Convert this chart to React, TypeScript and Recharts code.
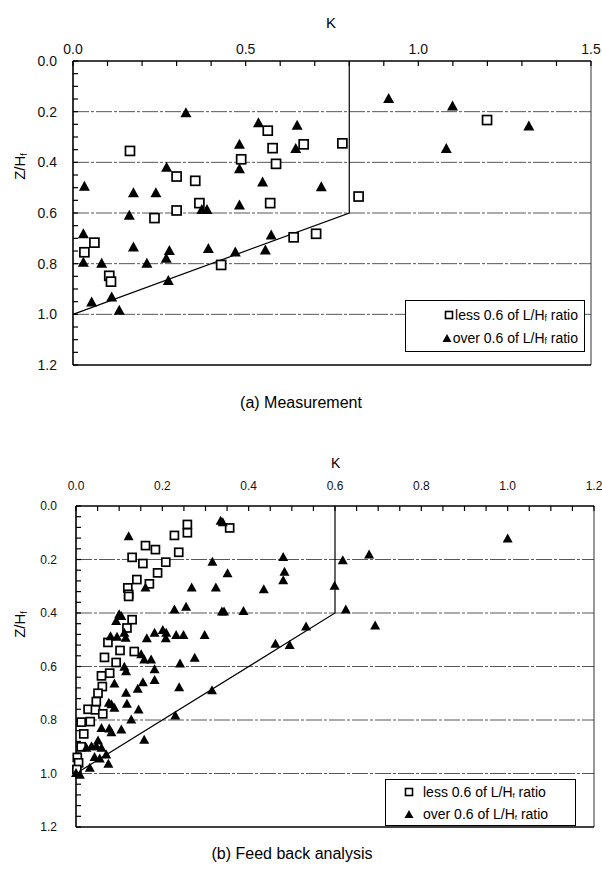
import React from 'react';
import { ScatterChart, Scatter, XAxis, YAxis, ReferenceLine } from 'recharts';

const FONT = '"Liberation Sans", Arial, Helvetica, sans-serif';

// ---- (a) Measurement ----
const A_LESS_K = [0.165, 0.564, 0.578, 0.668, 0.78, 0.487, 0.588, 0.3, 0.354, 0.366, 0.571, 0.3, 0.236, 0.827, 0.062, 0.033, 0.639, 0.704, 0.429, 0.105, 0.11, 1.199];
const A_LESS_Z = [0.355, 0.275, 0.344, 0.329, 0.325, 0.388, 0.406, 0.456, 0.473, 0.561, 0.561, 0.59, 0.62, 0.535, 0.717, 0.755, 0.696, 0.682, 0.805, 0.848, 0.871, 0.233];
const A_OVER_K = [0.327, 0.537, 0.649, 0.482, 0.645, 0.482, 0.271, 0.033, 0.549, 0.719, 0.175, 0.24, 0.373, 0.388, 0.482, 0.163, 0.03, 0.175, 0.279, 0.27, 0.392, 0.47, 0.574, 0.557, 0.03, 0.083, 0.214, 0.276, 0.054, 0.112, 0.134, 0.914, 1.099, 1.32, 1.081];
const A_OVER_Z = [0.206, 0.246, 0.256, 0.331, 0.347, 0.427, 0.421, 0.496, 0.48, 0.498, 0.522, 0.522, 0.588, 0.588, 0.57, 0.611, 0.684, 0.736, 0.75, 0.781, 0.742, 0.756, 0.689, 0.748, 0.796, 0.8, 0.8, 0.868, 0.953, 0.934, 0.986, 0.15, 0.18, 0.259, 0.347];
const A_LIMIT_K = [0, 0.8, 0.8];
const A_LIMIT_Z = [1.0, 0.6, 0.0];
const A_X_TICKS = [0, 0.1, 0.2, 0.3, 0.4, 0.5, 0.6, 0.7, 0.8, 0.9, 1.0, 1.1, 1.2, 1.3, 1.4, 1.5];
const A_X_LABELS = [0, 0.5, 1.0, 1.5];
const A_Y_TICKS = [0, 0.05, 0.1, 0.15, 0.2, 0.25, 0.3, 0.35, 0.4, 0.45, 0.5, 0.55, 0.6, 0.65, 0.7, 0.75, 0.8, 0.85, 0.9, 0.95, 1.0, 1.05, 1.1, 1.15, 1.2];
const A_Y_LABELS = [0, 0.2, 0.4, 0.6, 0.8, 1.0, 1.2];

// ---- (b) Feed back analysis ----
const B_LESS_K = [0.258, 0.258, 0.228, 0.356, 0.161, 0.184, 0.238, 0.13, 0.155, 0.208, 0.189, 0.141, 0.17, 0.12, 0.122, 0.122, 0.13, 0.118, 0.074, 0.102, 0.135, 0.066, 0.093, 0.078, 0.059, 0.061, 0.051, 0.047, 0.028, 0.045, 0.062, 0.012, 0.033, 0.018, 0.012, 0.003, 0.006, 0.002];
const B_LESS_Z = [0.069, 0.1, 0.11, 0.082, 0.148, 0.163, 0.173, 0.192, 0.215, 0.21, 0.25, 0.275, 0.291, 0.306, 0.33, 0.338, 0.425, 0.456, 0.51, 0.54, 0.544, 0.566, 0.585, 0.625, 0.635, 0.675, 0.7, 0.731, 0.76, 0.762, 0.777, 0.808, 0.806, 0.852, 0.9, 0.94, 0.96, 0.985];
const B_OVER_K = [0.122, 0.335, 0.34, 1.0, 0.679, 0.48, 0.618, 0.316, 0.351, 0.483, 0.48, 0.161, 0.268, 0.324, 0.435, 0.599, 0.228, 0.255, 0.338, 0.343, 0.388, 0.625, 0.693, 0.105, 0.093, 0.1, 0.08, 0.095, 0.115, 0.112, 0.164, 0.182, 0.201, 0.209, 0.208, 0.232, 0.249, 0.298, 0.533, 0.462, 0.495, 0.151, 0.158, 0.174, 0.241, 0.275, 0.112, 0.182, 0.116, 0.182, 0.239, 0.315, 0.23, 0.089, 0.155, 0.143, 0.116, 0.076, 0.082, 0.089, 0.118, 0.145, 0.128, 0.059, 0.077, 0.082, 0.105, 0.158, 0.051, 0.024, 0.036, 0.047, 0.059, 0.043, 0.055, 0.07, 0.075, 0.032, 0.0, 0.009];
const B_OVER_Z = [0.115, 0.057, 0.062, 0.123, 0.183, 0.192, 0.204, 0.21, 0.253, 0.247, 0.279, 0.306, 0.306, 0.306, 0.313, 0.3, 0.388, 0.378, 0.396, 0.396, 0.394, 0.388, 0.448, 0.413, 0.431, 0.406, 0.488, 0.49, 0.494, 0.475, 0.496, 0.475, 0.465, 0.475, 0.496, 0.484, 0.484, 0.484, 0.452, 0.516, 0.521, 0.556, 0.575, 0.575, 0.59, 0.569, 0.602, 0.612, 0.619, 0.652, 0.679, 0.69, 0.785, 0.665, 0.66, 0.685, 0.7, 0.737, 0.743, 0.756, 0.741, 0.762, 0.8, 0.831, 0.833, 0.847, 0.837, 0.875, 0.878, 0.905, 0.9, 0.9, 0.905, 0.94, 0.945, 0.93, 0.965, 0.98, 1.0, 1.006];
const B_LIMIT_K = [0, 0.6, 0.6];
const B_LIMIT_Z = [1.0, 0.4, 0.0];
const B_X_TICKS = [0, 0.05, 0.1, 0.15, 0.2, 0.25, 0.3, 0.35, 0.4, 0.45, 0.5, 0.55, 0.6, 0.65, 0.7, 0.75, 0.8, 0.85, 0.9, 0.95, 1.0, 1.05, 1.1, 1.15, 1.2];
const B_X_LABELS = [0, 0.2, 0.4, 0.6, 0.8, 1.0, 1.2];
const B_Y_TICKS = [0, 0.04, 0.08, 0.12, 0.16, 0.2, 0.24, 0.28, 0.32, 0.36, 0.4, 0.44, 0.48, 0.52, 0.56, 0.6, 0.64, 0.68, 0.72, 0.76, 0.8, 0.84, 0.88, 0.92, 0.96, 1.0, 1.04, 1.08, 1.12, 1.16, 1.2];
const B_Y_LABELS = [0, 0.2, 0.4, 0.6, 0.8, 1.0, 1.2];

const GRID_Z = [0.2, 0.4, 0.6, 0.8, 1.0];

const zip = (k: number[], z: number[]) => k.map((v, i) => ({ k: v, z: z[i] }));
const labelFmt = (labels: number[]) => (v: number) =>
  labels.some((l) => Math.abs(l - v) < 1e-9) ? v.toFixed(1) : '';

const squareShape = (s: number, sw: number) => (p: any) => (
  <rect x={p.cx - s / 2} y={p.cy - s / 2} width={s} height={s} fill="#fff" stroke="#000" strokeWidth={sw} />
);
const triangleShape = (w: number, h: number) => (p: any) => (
  <polygon
    points={`${p.cx},${p.cy - h * 0.6} ${p.cx - w / 2},${p.cy + h * 0.4} ${p.cx + w / 2},${p.cy + h * 0.4}`}
    fill="#000"
  />
);
const noShape = () => <g />;

function Panel(props: {
  height: number;
  margin: { top: number; right: number; bottom: number; left: number };
  xHeight: number;
  yWidth: number;
  xMax: number;
  xTicks: number[];
  xLabels: number[];
  yTicks: number[];
  yLabels: number[];
  xTickMargin: number;
  yTickMargin: number;
  fontSize: number;
  less: { k: number; z: number }[];
  over: { k: number; z: number }[];
  limit: { k: number; z: number }[];
  sq: number;
  tri: [number, number];
}) {
  const p = props;
  return (
    <ScatterChart width={602} height={p.height} margin={p.margin}>
      <XAxis
        type="number"
        dataKey="k"
        orientation="top"
        domain={[0, p.xMax]}
        ticks={p.xTicks}
        interval={0}
        height={p.xHeight}
        tickSize={-5}
        tickMargin={p.xTickMargin}
        tickFormatter={labelFmt(p.xLabels)}
        axisLine={{ stroke: '#000', strokeWidth: 1.6 }}
        tickLine={{ stroke: '#000', strokeWidth: 1.2 }}
        tick={{ fill: '#111', fontSize: p.fontSize, fontFamily: FONT }}
      />
      <YAxis
        type="number"
        dataKey="z"
        domain={[0, 1.2]}
        reversed
        ticks={p.yTicks}
        interval={0}
        width={p.yWidth}
        tickSize={-5}
        tickMargin={p.yTickMargin}
        tickFormatter={labelFmt(p.yLabels)}
        axisLine={{ stroke: '#000', strokeWidth: 1.6 }}
        tickLine={{ stroke: '#000', strokeWidth: 1.2 }}
        tick={{ fill: '#111', fontSize: p.fontSize, fontFamily: FONT }}
      />
      {GRID_Z.map((z) => (
        <ReferenceLine key={z} y={z} stroke="#444" strokeWidth={0.9} strokeDasharray="16 2 3 2" />
      ))}
      <ReferenceLine x={p.xMax} stroke="#333" strokeWidth={1} ifOverflow="visible" />
      <ReferenceLine y={1.2} stroke="#000" strokeWidth={1.6} ifOverflow="visible" />
      <Scatter data={p.limit} line={{ stroke: '#000', strokeWidth: 1.2 }} shape={noShape} isAnimationActive={false} />
      <Scatter data={p.less} shape={squareShape(p.sq, 1.7)} isAnimationActive={false} />
      <Scatter data={p.over} shape={triangleShape(p.tri[0], p.tri[1])} isAnimationActive={false} />
    </ScatterChart>
  );
}

const Hf = ({ size }: { size: number }) => (
  <span>
    H<span style={{ fontSize: size * 0.6, position: 'relative', top: size * 0.12 }}>f</span>
  </span>
);

function LegendRow({ marker, text, fontSize, gap }: { marker: 'sq' | 'tri'; text: string; fontSize: number; gap: number }) {
  return (
    <div style={{ display: 'flex', alignItems: 'center', height: fontSize + 9 }}>
      <svg width={10} height={10} style={{ marginRight: gap }}>
        {marker === 'sq' ? (
          <rect x={1.5} y={1.5} width={7} height={7} fill="#fff" stroke="#000" strokeWidth={1.6} />
        ) : (
          <polygon points="5,1 0.5,9 9.5,9" fill="#000" />
        )}
      </svg>
      <span>
        {text} of L/<Hf size={fontSize} /> ratio
      </span>
    </div>
  );
}

export default function App() {
  const abs = (l: number, t: number): React.CSSProperties => ({ position: 'absolute', left: l, top: t });
  return (
    <div style={{ position: 'absolute', left: 0, top: 0, width: 602, height: 875, background: '#fff', fontFamily: FONT, color: '#000' }}>
      {/* (a) */}
      <div style={abs(0, 0)}>
        <Panel
          height={380}
          margin={{ top: 30, right: 11, bottom: 15, left: 10 }}
          xHeight={31}
          yWidth={63}
          xMax={1.5}
          xTicks={A_X_TICKS}
          xLabels={A_X_LABELS}
          yTicks={A_Y_TICKS}
          yLabels={A_Y_LABELS}
          xTickMargin={12}
          yTickMargin={21}
          fontSize={14}
          less={zip(A_LESS_K, A_LESS_Z)}
          over={zip(A_OVER_K, A_OVER_Z)}
          limit={zip(A_LIMIT_K, A_LIMIT_Z)}
          sq={9}
          tri={[11, 10]}
        />
      </div>
      <div style={{ ...abs(326, 14), fontSize: 15 }}>K</div>
      <div style={{ ...abs(0, 158), width: 38, fontSize: 15, transform: 'rotate(-90deg)', textAlign: 'center', whiteSpace: 'nowrap' }}>
        Z/<Hf size={15} />
      </div>
      <div
        style={{
          ...abs(405, 300),
          width: 180,
          height: 52,
          border: '1px solid #000',
          background: '#fff',
          fontSize: 14,
          display: 'flex',
          flexDirection: 'column',
          alignItems: 'flex-end',
          justifyContent: 'center',
          paddingRight: 6,
          boxSizing: 'border-box',
        }}
      >
        <LegendRow marker="sq" text="less 0.6" fontSize={14} gap={1} />
        <LegendRow marker="tri" text="over 0.6" fontSize={14} gap={1} />
      </div>
      <div style={{ ...abs(0, 394), width: 602, textAlign: 'center', fontSize: 16 }}>(a) Measurement</div>

      {/* (b) */}
      <div style={abs(0, 440)}>
        <Panel
          height={400}
          margin={{ top: 20, right: 8, bottom: 13, left: 10 }}
          xHeight={46}
          yWidth={66}
          xMax={1.2}
          xTicks={B_X_TICKS}
          xLabels={B_X_LABELS}
          yTicks={B_Y_TICKS}
          yLabels={B_Y_LABELS}
          xTickMargin={21}
          yTickMargin={24}
          fontSize={12}
          less={zip(B_LESS_K, B_LESS_Z)}
          over={zip(B_OVER_K, B_OVER_Z)}
          limit={zip(B_LIMIT_K, B_LIMIT_Z)}
          sq={8}
          tri={[10, 9]}
        />
      </div>
      <div style={{ ...abs(331, 455), fontSize: 14 }}>K</div>
      <div style={{ ...abs(0, 616), width: 38, fontSize: 15, transform: 'rotate(-90deg)', textAlign: 'center', whiteSpace: 'nowrap' }}>
        Z/<Hf size={15} />
      </div>
      <div
        style={{
          ...abs(385, 779),
          width: 191,
          height: 47,
          border: '1px solid #000',
          background: '#fff',
          fontSize: 14,
          display: 'flex',
          flexDirection: 'column',
          justifyContent: 'center',
          paddingLeft: 18,
          boxSizing: 'border-box',
        }}
      >
        <LegendRow marker="sq" text="less 0.6" fontSize={13} gap={9} />
        <LegendRow marker="tri" text="over 0.6" fontSize={13} gap={9} />
      </div>
      <div style={{ ...abs(0, 845), width: 584, textAlign: 'center', fontSize: 16 }}>(b) Feed back analysis</div>
    </div>
  );
}
